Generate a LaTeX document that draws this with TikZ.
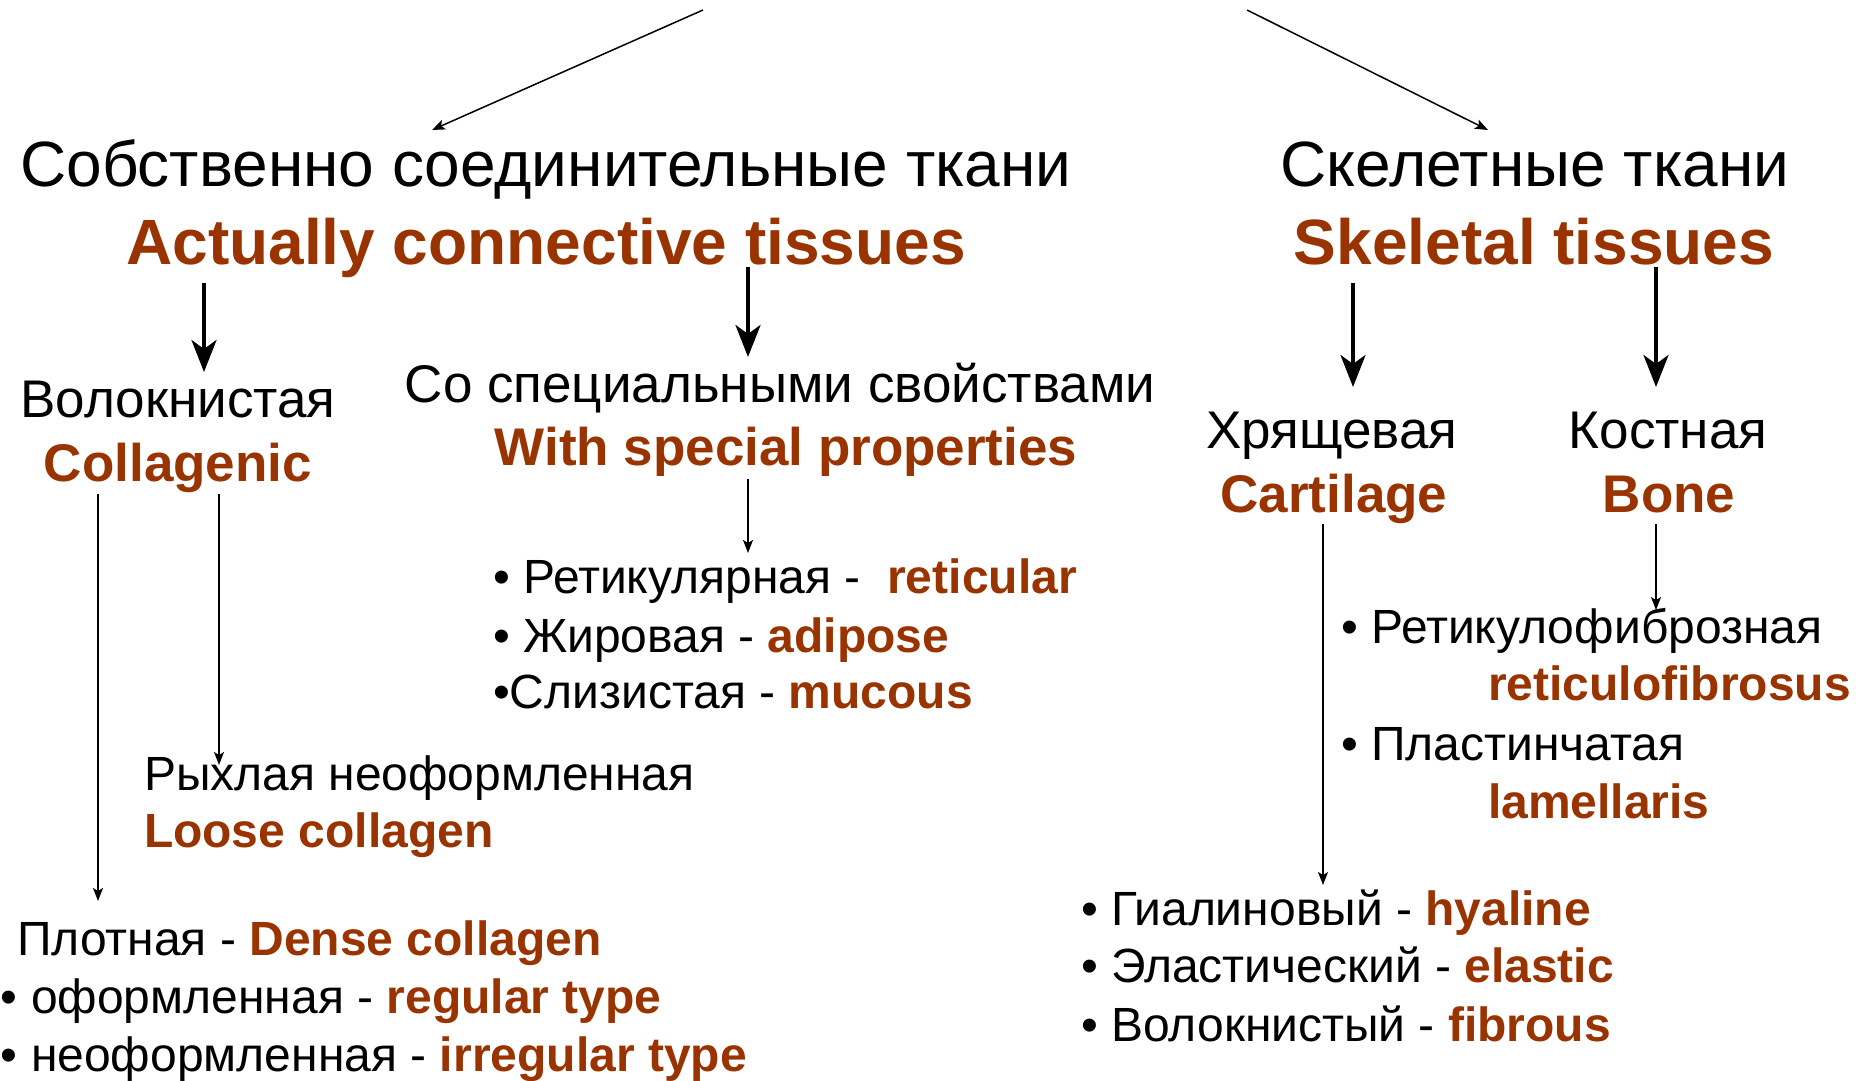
\documentclass[tikz,border=0pt]{standalone}
\usepackage{fontspec}
\setmainfont{Liberation Sans}
\usepackage{xcolor}
\usepackage{tikz}
\usetikzlibrary{arrows.meta,calc}

\definecolor{brn}{RGB}{153,51,0}
\newcommand{\engl}[1]{{\bfseries\color{brn}#1}}

\begin{document}
\begin{tikzpicture}[
  x=1pt, y=-1pt,
  every node/.style={inner sep=0pt, outer sep=0pt},
  headru/.style={anchor=base, font=\fontsize{64}{70}\selectfont},
  headen/.style={anchor=base, font=\fontsize{64}{70}\selectfont\bfseries, text=brn},
  subru/.style={anchor=base, font=\fontsize{53}{60}\selectfont},
  suben/.style={anchor=base, font=\fontsize{53}{60}\selectfont\bfseries, text=brn},
  listitem/.style={anchor=base west, font=\fontsize{48}{55}\selectfont},
  bigarrow/.style={-{Stealth[length=32pt,width=25pt,inset=9pt]}, line width=4pt},
  thinarrow/.style={-{Stealth[length=13pt,width=10pt,inset=3pt]}, line width=1.5pt}
]

% Page
\fill[white] (0,0) rectangle (1868,1081);
\useasboundingbox (0,0) rectangle (1868,1081);

% Top level
\node[headru] (ctru) at (546,186) {Собственно соединительные ткани};
\node[headen] (cten) at (546,264) {Actually connective tissues};
\node[headru] (skru) at (1535,186) {Скелетные ткани};
\node[headen] (sken) at (1534,264) {Skeletal tissues};

% Second level
\node[subru] (fibru) at (178,417) {Волокнистая};
\node[suben] (fiben) at (178,481) {Collagenic};
\node[subru] (spru) at (780,402) {Со специальными свойствами};
\node[suben] (spen) at (786,465) {With special properties};
\node[subru] (cartru) at (1332,448) {Хрящевая};
\node[suben] (carten) at (1334,512) {Cartilage};
\node[subru] (boneru) at (1668,448) {Костная};
\node[suben] (boneen) at (1669,512) {Bone};

% Special properties
\node[listitem] (retic) at (493,593) {• Ретикулярная - \ \engl{reticular}};
\node[listitem] (adip) at (493,652) {• Жировая - \engl{adipose}};
\node[listitem] (mucus) at (493,708) {•Слизистая - \engl{mucous}};

% Collagenic
\node[listitem] (looseru) at (144,790) {Рыхлая неоформленная};
\node[listitem] (looseen) at (144,847) {\engl{Loose collagen}};
\node[listitem] (dense) at (17,955) {Плотная - \engl{Dense collagen}};
\node[listitem] (regul) at (1,1013) {• оформленная - \engl{regular type}};
\node[listitem] (irreg) at (1,1071) {• неоформленная - \engl{irregular type}};

% Bone
\node[listitem] (rfru) at (1341,643) {• Ретикулофиброзная};
\node[listitem] (rfen) at (1488,700) {\engl{reticulofibrosus}};
\node[listitem] (lamru) at (1341,760) {• Пластинчатая};
\node[listitem] (lamen) at (1488,818) {\engl{lamellaris}};

% Cartilage
\node[listitem] (hyal) at (1081,925) {• Гиалиновый - \engl{hyaline}};
\node[listitem] (elast) at (1081,982) {• Эластический - \engl{elastic}};
\node[listitem] (fibro) at (1081,1041) {• Волокнистый - \engl{fibrous}};

% Arrows from above
\coordinate (srcL) at (703,10);
\coordinate (srcR) at (1247,10);
\draw[thinarrow] (srcL) -- ($(ctru.base)+(-114,-56)$);
\draw[thinarrow] (srcR) -- ($(skru.base)+(-47,-56)$);

% Thick arrows
\draw[bigarrow, shorten <=19pt, shorten >=45pt] (cten.base -| 204,0) -- (fibru.base -| 204,0);
\draw[bigarrow, shorten <=3pt, shorten >=45pt] (cten.base -| 748,0) -- (spru.base -| 748,0);
\draw[bigarrow, shorten <=19pt, shorten >=61pt] (sken.base -| 1353,0) -- (cartru.base -| 1353,0);
\draw[bigarrow, shorten <=3pt, shorten >=61pt] (sken.base -| 1656,0) -- (boneru.base -| 1656,0);

% Thin arrows
\draw[thinarrow, shorten <=14pt, shorten >=40pt] (spen.base -| 748,0) -- (retic.base -| 748,0);
\draw[thinarrow, shorten <=13pt, shorten >=54pt] (fiben.base -| 98,0) -- (dense.base -| 98,0);
\draw[thinarrow, shorten <=13pt, shorten >=25pt] (fiben.base -| 219,0) -- (looseru.base -| 219,0);
\draw[thinarrow, shorten <=12pt, shorten >=40pt] (carten.base -| 1323,0) -- (hyal.base -| 1323,0);
\draw[thinarrow, shorten <=12pt, shorten >=33pt] (boneen.base -| 1656,0) -- (rfru.base -| 1656,0);

\end{tikzpicture}
\end{document}
